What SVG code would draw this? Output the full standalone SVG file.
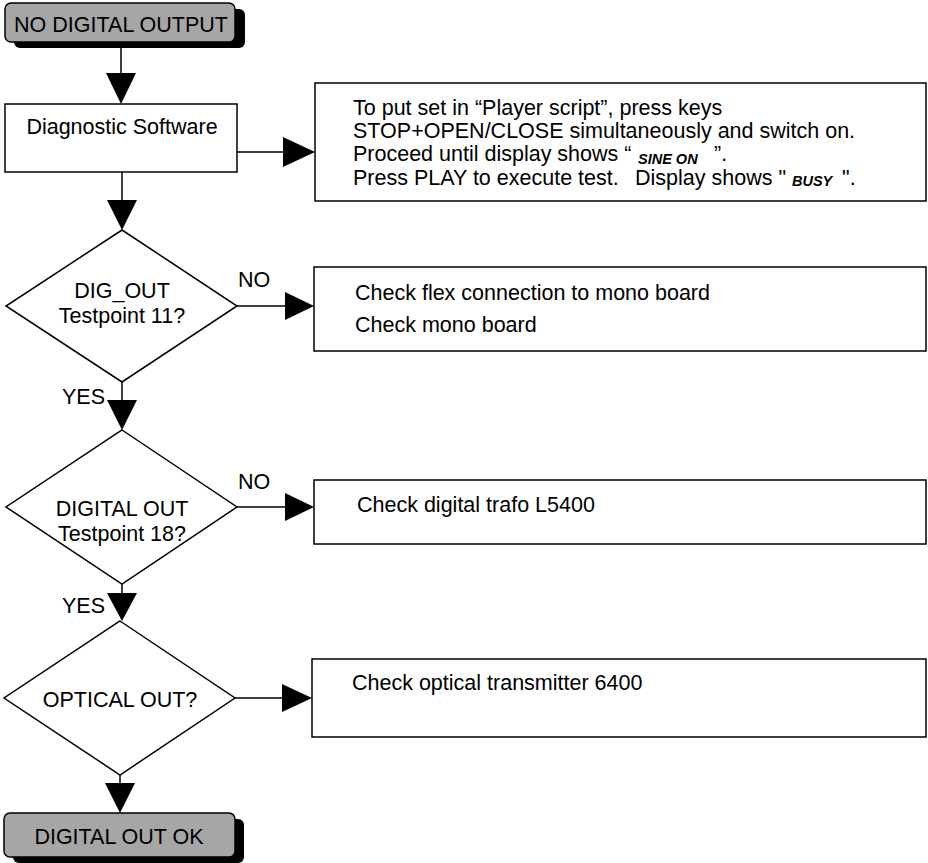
<svg xmlns="http://www.w3.org/2000/svg" width="928" height="863" viewBox="0 0 928 863">
<style>
text{font-family:"Liberation Sans",Arial,sans-serif;fill:#000;font-size:21.5px}
.c{text-anchor:middle}
.em{font-size:14.5px;font-weight:bold;font-style:italic}
.box{fill:#fff;stroke:#000;stroke-width:1.5}
.term{fill:#a6a6a6;stroke:#000;stroke-width:1.5}
.shadow{fill:#000}
.ln{stroke:#000;stroke-width:1.5;fill:none}
.ah{fill:#000}
</style>
<rect width="928" height="863" fill="#fff"/>
<g id="start">
<rect class="shadow" x="14" y="9" width="231" height="39" rx="6"/>
<rect class="term" x="5" y="3" width="230" height="39" rx="6"/>
<text class="c" x="121" y="32">NO DIGITAL OUTPUT</text>
</g>
<g id="diag">
<rect class="box" x="5" y="104" width="232" height="68"/>
<text class="c" x="122" y="134">Diagnostic Software</text>
</g>
<g id="info">
<rect class="box" x="315" y="83" width="611" height="118"/>
<text x="353" y="115">To put set in “Player script”, press keys</text>
<text x="353" y="138">STOP+OPEN/CLOSE simultaneously and switch on.</text>
<text x="353" y="161">Proceed until display shows “<tspan class="em" x="638" dy="3">SINE ON</tspan><tspan x="714" dy="-3">”.</tspan></text>
<text x="353" y="185">Press PLAY to execute test.<tspan x="635">Display shows "</tspan><tspan class="em" x="792" dy="1">BUSY</tspan><tspan x="842" dy="-1">".</tspan></text>
</g>
<g id="d1">
<polygon class="box" points="122,230 237,306 122,382 6,306"/>
<text class="c" x="122" y="298">DIG_OUT</text>
<text class="c" x="122" y="323">Testpoint 11?</text>
</g>
<g id="r1">
<rect class="box" x="314" y="267" width="612" height="84"/>
<text x="355" y="300">Check flex connection to mono board</text>
<text x="355" y="332">Check mono board</text>
</g>
<g id="d2">
<polygon class="box" points="122,430 237,507 122,584 6,507"/>
<text class="c" x="122" y="516">DIGITAL OUT</text>
<text class="c" x="122" y="541">Testpoint 18?</text>
</g>
<g id="r2">
<rect class="box" x="314" y="480" width="612" height="64"/>
<text x="357" y="512">Check digital trafo L5400</text>
</g>
<g id="d3">
<polygon class="box" points="120,621 235,698 120,775 4,698"/>
<text class="c" x="120" y="707">OPTICAL OUT?</text>
</g>
<g id="r3">
<rect class="box" x="312" y="659" width="614" height="78"/>
<text x="352" y="690">Check optical transmitter 6400</text>
</g>
<g id="end">
<rect class="shadow" x="13" y="819" width="231" height="44" rx="6"/>
<rect class="term" x="4" y="813" width="231" height="44" rx="6"/>
<text class="c" x="119" y="844">DIGITAL OUT OK</text>
</g>
<g id="connectors">
<line class="ln" x1="121" y1="42" x2="121" y2="75"/>
<polygon class="ah" points="106,73 136,73 121,104"/>
<line class="ln" x1="237" y1="152" x2="285" y2="152"/>
<polygon class="ah" points="283,137 283,167 315,152"/>
<line class="ln" x1="122" y1="172" x2="122" y2="202"/>
<polygon class="ah" points="107,200 137,200 122,230"/>
<line class="ln" x1="237" y1="306" x2="287" y2="306"/>
<polygon class="ah" points="285,292 285,320 314,306"/>
<text x="238" y="287">NO</text>
<line class="ln" x1="122" y1="382" x2="122" y2="402"/>
<polygon class="ah" points="107,400 137,400 122,430"/>
<text x="62" y="404">YES</text>
<line class="ln" x1="237" y1="507" x2="287" y2="507"/>
<polygon class="ah" points="285,493 285,521 314,507"/>
<text x="238" y="489">NO</text>
<line class="ln" x1="122" y1="584" x2="122" y2="595"/>
<polygon class="ah" points="107,593 137,593 122,621"/>
<text x="62" y="613">YES</text>
<line class="ln" x1="235" y1="698" x2="284" y2="698"/>
<polygon class="ah" points="282,684 282,712 312,698"/>
<line class="ln" x1="120" y1="775" x2="120" y2="785"/>
<polygon class="ah" points="105,783 135,783 120,813"/>
</g>
</svg>
